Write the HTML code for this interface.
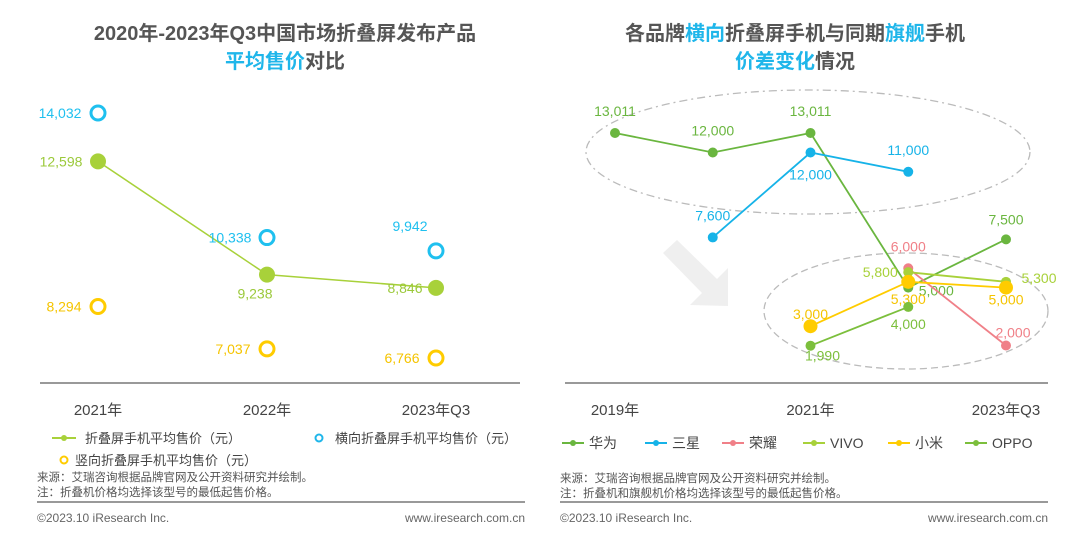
<!DOCTYPE html>
<html><head><meta charset="utf-8"><style>
body{margin:0;width:1080px;height:533px;background:#fff;overflow:hidden;font-family:"Liberation Sans","Noto Sans CJK SC",sans-serif}
svg{position:absolute;left:0;top:0}
</style></head><body>
<svg width="1080" height="533" font-family="Liberation Sans, Noto Sans CJK SC, sans-serif">
<g font-size="20" font-weight="bold" text-anchor="middle" fill="#555">
<text x="285" y="40">2020年-2023年Q3中国市场折叠屏发布产品</text>
<text x="285" y="68"><tspan fill="#1fb6ea">平均售价</tspan>对比</text>
</g>
<g font-size="20" font-weight="bold" text-anchor="middle" fill="#555">
<text x="795" y="40">各品牌<tspan fill="#1fb6ea">横向</tspan>折叠屏手机与同期<tspan fill="#1fb6ea">旗舰</tspan>手机</text>
<text x="795" y="68"><tspan fill="#1fb6ea">价差变化</tspan>情况</text>
</g>
<line x1="40" y1="383" x2="520" y2="383" stroke="#999" stroke-width="2"/>
<line x1="565" y1="383" x2="1048" y2="383" stroke="#999" stroke-width="2"/>
<g id="left"></g>
<polygon points="663,253 677,240 717,279 728,268 728,306 690,305 702,293" fill="#efefef"/>
<ellipse cx="808" cy="152" rx="222" ry="62" fill="none" stroke="#bbb" stroke-width="1.3" stroke-dasharray="8,4,2,4"/>
<ellipse cx="906" cy="311" rx="142" ry="58" fill="none" stroke="#bbb" stroke-width="1.3" stroke-dasharray="7,4"/>
<g id="right"></g>
<g font-size="13" fill="#444">
<line x1="52" y1="438" x2="76" y2="438" stroke="#a8d13a" stroke-width="2"/><circle cx="64" cy="438" r="3" fill="#a8d13a"/>
<text x="85" y="443">折叠屏手机平均售价（元）</text>
<circle cx="319" cy="438" r="3.5" fill="none" stroke="#1fb6ea" stroke-width="2"/>
<text x="335" y="443">横向折叠屏手机平均售价（元）</text>
<circle cx="64" cy="460" r="3.5" fill="none" stroke="#fc0" stroke-width="2"/>
<text x="75" y="465">竖向折叠屏手机平均售价（元）</text>
</g>
<g font-size="13" fill="#444" id="rleg"></g>
<g font-size="11.5" fill="#555">
<text x="37" y="481">来源：艾瑞咨询根据品牌官网及公开资料研究并绘制。</text>
<text x="37" y="496">注：折叠机价格均选择该型号的最低起售价格。</text>
<text x="560" y="482">来源：艾瑞咨询根据品牌官网及公开资料研究并绘制。</text>
<text x="560" y="497">注：折叠机和旗舰机价格均选择该型号的最低起售价格。</text>
</g>
<line x1="37" y1="502" x2="525" y2="502" stroke="#999" stroke-width="2"/>
<line x1="560" y1="502" x2="1048" y2="502" stroke="#999" stroke-width="2"/>
<g font-size="12" fill="#666">
<text x="37" y="522">©2023.10 iResearch Inc.</text>
<text x="525" y="522" text-anchor="end">www.iresearch.com.cn</text>
<text x="560" y="522">©2023.10 iResearch Inc.</text>
<text x="1048" y="522" text-anchor="end">www.iresearch.com.cn</text>
</g>
</svg>
<script>
const leftCats=["2021年","2022年","2023年Q3"];
const avgAll=[12598,9238,8846];
const avgHoriz=[14032,10338,9942];
const avgVert=[8294,7037,6766];
const rightCats=["2019","2020","2021","2022","2023Q3"];
const rightTickLabels=["2019年","","2021年","","2023年Q3"];
const brandNames=["华为","三星","荣耀","VIVO","小米","OPPO"];
const huawei=[13011,12000,13011,5000,7500];
const samsung=[null,7600,12000,11000,null];
const honor=[null,null,null,6000,2000];
const vivo=[null,null,null,5800,5300];
const xiaomi=[null,null,3000,5300,5000];
const oppo=[null,null,1990,4000,null];

const NS="http://www.w3.org/2000/svg";
function mk(p,t,a){const e=document.createElementNS(NS,t);for(const k in a)e.setAttribute(k,a[k]);p.appendChild(e);return e;}
function fmt(v){return v.toLocaleString("en-US");}
// left chart
const L=document.getElementById("left");
const lx=i=>98+i*169;
const ly=v=>358-(v-6766)*0.03372;
leftCats.forEach((c,i)=>{const t=mk(L,"text",{x:lx(i),y:415,"text-anchor":"middle","font-size":"15",fill:"#444"});t.textContent=c;

});
let d="";avgAll.forEach((v,i)=>{d+=(i?"L":"M")+lx(i)+","+ly(v);});
const pl=mk(L,"path",{d:d,fill:"none",stroke:"#a8d13a","stroke-width":"1.5"});


const lblOff=[[-37,5],[-12,24],[-31,5]];
avgAll.forEach((v,i)=>{const c=mk(L,"circle",{cx:lx(i),cy:ly(v),r:8,fill:"#a8d13a"});


const t=mk(L,"text",{x:lx(i)+lblOff[i][0],y:ly(v)+lblOff[i][1],"text-anchor":"middle","font-size":"14",fill:"#9bc93a"});t.textContent=fmt(v);

});
const hOff=[[-38,5],[-37,5],[-26,-20]];
avgHoriz.forEach((v,i)=>{const c=mk(L,"circle",{cx:lx(i),cy:ly(v),r:7,fill:"none",stroke:"#1fc0ef","stroke-width":"3"});


const t=mk(L,"text",{x:lx(i)+hOff[i][0],y:ly(v)+hOff[i][1],"text-anchor":"middle","font-size":"14",fill:"#1fc0ef"});t.textContent=fmt(v);

});
avgVert.forEach((v,i)=>{const c=mk(L,"circle",{cx:lx(i),cy:ly(v),r:7,fill:"none",stroke:"#fc0","stroke-width":"3"});


const t=mk(L,"text",{x:lx(i)-34,y:ly(v)+5,"text-anchor":"middle","font-size":"14",fill:"#f5c400"});t.textContent=fmt(v);

});
// right chart
const R=document.getElementById("right");
const rx=i=>615+i*97.75;
const ry=v=>133+(13011-v)*0.0193;
rightTickLabels.forEach((c,i)=>{if(!c)return;const t=mk(R,"text",{x:rx(i),y:415,"text-anchor":"middle","font-size":"15",fill:"#444"});t.textContent=c;

});
const series=[huawei,samsung,honor,vivo,xiaomi,oppo];
const colors=["#6ab63f","#16b3e8","#f08088","#a8d13a","#fc0","#7cbf3c"];
const offs=[
 [[0,-22],[0,-22],[0,-22],[28,3],[0,-20]],
 [null,[0,-22],[0,22],[0,-22],null],
 [null,null,null,[0,-22],[7,-13]],
 [null,null,null,[-28,0],[33,-4]],
 [null,null,[0,-12],[0,17],[0,12]],
 [null,null,[12,10],[0,17],null]];
series.forEach((s,si)=>{let d="";let first=true;
 s.forEach((v,i)=>{if(v==null)return;d+=(first?"M":"L")+rx(i)+","+ry(v);first=false;});
 const p=mk(R,"path",{d:d,fill:"none",stroke:colors[si],"stroke-width":"1.8"});
 
 
 s.forEach((v,i)=>{if(v==null)return;const r=si==4?7:5;
  const c=mk(R,"circle",{cx:rx(i),cy:ry(v),r:r,fill:colors[si]});
  
  
  const o=offs[si][i];const t=mk(R,"text",{x:rx(i)+o[0],y:ry(v)+o[1]+5,"text-anchor":"middle","font-size":"14",fill:si==4?"#f5c400":colors[si]});t.textContent=fmt(v);
  
  });
});
const RL=document.getElementById("rleg");
const legX=[562,645,722,803,888,965];
brandNames.forEach((n,i)=>{const g=mk(RL,"g",{});
 
 
 mk(g,"line",{x1:legX[i],y1:443,x2:legX[i]+22,y2:443,stroke:colors[i],"stroke-width":"2"});
 mk(g,"circle",{cx:legX[i]+11,cy:443,r:3,fill:colors[i]});
 const t=mk(g,"text",{x:legX[i]+27,y:448,"font-size":"14",fill:"#444"});t.textContent=n;});
</script>
</body></html>
